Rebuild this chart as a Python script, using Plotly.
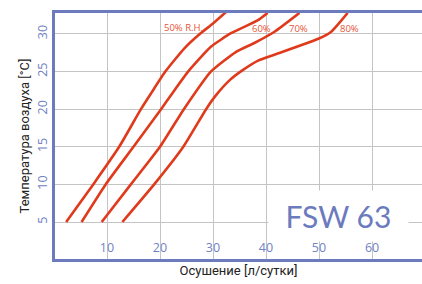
import plotly.graph_objects as go

# Data (x: dehumidification l/day, y: air temperature °C)
rh50_x = [2.3, 7.4, 12.3, 16.4, 18.4, 21.0, 24.6, 27.5, 30.0, 32.9]
rh50_y = [5, 10, 15, 20, 22.2, 25, 28.1, 30, 31.4, 33.2]

rh60_x = [5.2, 9.75, 15.0, 20.2, 22.2, 25.3, 29.6, 33.4, 38.4, 40.3]
rh60_y = [5, 10, 15, 20, 22, 25, 28.3, 30.1, 31.8, 32.8]

rh70_x = [9.0, 14.5, 20.0, 24.5, 29.6, 34.3, 37.8, 41.6, 46.3]
rh70_y = [5, 10, 15, 20, 25.0, 27.6, 28.8, 30.3, 32.8]

rh80_x = [12.9, 18.9, 24.4, 28.7, 30.5, 33.2, 35.6, 38.6, 42.2, 50.0, 52.3, 55.4]
rh80_y = [5, 10, 15, 20, 21.8, 23.9, 25.2, 26.5, 27.4, 29.4, 30.3, 32.8]

series = [
    ("50% R.H.", rh50_x, rh50_y),
    ("60%", rh60_x, rh60_y),
    ("70%", rh70_x, rh70_y),
    ("80%", rh80_x, rh80_y),
]
label_pos = {"50% R.H.": (24.4, 30.8), "60%": (39.1, 30.7), "70%": (46.2, 30.7), "80%": (55.7, 30.7)}

x_ticks = [10, 20, 30, 40, 50, 60]
y_ticks = [5, 10, 15, 20, 25, 30]

RED = "#e03a1c"
BLUE = "#6b7bbd"
TICK_BLUE = "#7282c2"

fig = go.Figure()
for name, xs, ys in series:
    fig.add_trace(go.Scatter(x=xs, y=ys, mode="lines", name=name,
                             line=dict(color=RED, width=2.6, shape="spline", smoothing=0.5),
                             showlegend=False, hoverinfo="skip"))

for name, (lx, ly) in label_pos.items():
    fig.add_annotation(x=lx, y=ly, text=name, showarrow=False,
                       font=dict(family="Open Sans", size=9.5, color="#e8553a"))

fig.add_annotation(xref="paper", yref="paper", x=(338 - 55) / 367, y=(259 - 216) / 246,
                   xanchor="center", yanchor="middle",
                   text="FSW 63", showarrow=False, bgcolor="white", width=137, height=48,
                   font=dict(family="Lato", size=30, color=BLUE))

# white strip masking gridlines behind x tick labels
fig.add_shape(type="rect", xref="paper", yref="paper", x0=0.005, x1=1,
              y0=(259 - 254) / 246, y1=(259 - 240) / 246,
              fillcolor="white", line=dict(width=0), layer="between")

fig.update_layout(
    width=422, height=284,
    margin=dict(l=55, r=0, t=13, b=25, autoexpand=False),
    paper_bgcolor="white", plot_bgcolor="white",
    xaxis=dict(range=[0.19, 69.43], tickvals=x_ticks, showgrid=True, gridcolor="#c4c4c4",
               gridwidth=1, showline=True, linecolor=BLUE, linewidth=2.5, mirror=True,
               ticks="", ticklabelposition="inside", ticklabelstandoff=4,
               zeroline=False, automargin=False,
               tickfont=dict(family="Open Sans", size=12.5, color=TICK_BLUE),
               title=dict(text="Осушение [л/сутки]", standoff=11,
                          font=dict(family="Roboto", size=13, color="#222222"))),
    yaxis=dict(range=[0.08, 32.79], tickvals=y_ticks, showgrid=True, gridcolor="#c4c4c4",
               gridwidth=1, showline=True, linecolor=BLUE, linewidth=2.5, ticks="",
               tickangle=-90, zeroline=False, automargin=False,
               tickfont=dict(family="Open Sans", size=12.5, color=TICK_BLUE),
               title=dict(text="Температура воздуха [°C]", standoff=2,
                          font=dict(family="Roboto", size=13, color="#222222"))),
)

fig.write_html("out.html", config={"displayModeBar": False},
               post_script="document.body.style.margin='0';document.body.style.overflow='hidden';")
